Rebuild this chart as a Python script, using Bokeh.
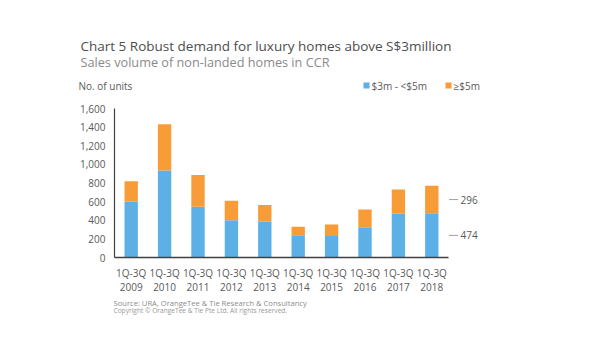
from bokeh.plotting import figure
from bokeh.models import (Range1d, NumeralTickFormatter, FixedTicker, CustomJSTickFormatter,
                          Label, ColumnDataSource)
from bokeh.core.properties import value
from bokeh.embed import file_html
from bokeh.resources import INLINE

# ---- data ----
years = ["2009", "2010", "2011", "2012", "2013", "2014", "2015", "2016", "2017", "2018"]
period = "1Q-3Q"
mid_segment = [600, 935, 545, 400, 385, 240, 230, 325, 470, 474]    # $3m - <$5m
top_segment = [220, 495, 340, 210, 180, 90, 125, 190, 260, 296]     # >= $5m
y_ticks = [0, 200, 400, 600, 800, 1000, 1200, 1400, 1600]
series_names = ["$3m - <$5m", "\u2265$5m"]

title_text = "Chart 5 Robust demand for luxury homes above S$3million"
subtitle_text = "Sales volume of non-landed homes in CCR"
unit_text = "No. of units"
source_text = "Source: URA, OrangeTee & Tie Research & Consultancy"
copyright_text = "Copyright \u00a9 OrangeTee & Tie Pte Ltd. All rights reserved."

BLUE = "#5DB0E6"
ORANGE = "#F89C38"
TXT = "#595959"
FONT = "Open Sans"

W, H = 583, 344
AX_L, AX_R = 114, 448        # x extent of the category axis (px)
AX_T, AX_B = 108, 257        # y extent of the value axis (px)
Y_MAX = 1600
N = len(years)
xpos = [i + 0.5 for i in range(N)]

ux = (AX_R - AX_L) / N       # px per category
uy = (AX_B - AX_T) / Y_MAX   # px per unit

p = figure(width=W, height=H,
           x_range=Range1d(-AX_L / ux, (W - AX_L) / ux),
           y_range=Range1d(-(H - AX_B) / uy, Y_MAX + AX_T / uy),
           output_backend="svg", toolbar_location=None, title=None,
           min_border=0, min_border_left=0, min_border_right=0,
           min_border_top=0, min_border_bottom=0,
           outline_line_color=None, background_fill_color="white")


def at(xp, yp):
    """page pixel -> data coordinates"""
    return ((xp - AX_L) / ux, (AX_B - yp) / uy)


def lab(text, xp, yp, size, color=TXT, align="left"):
    x, y = at(xp, yp)
    p.add_layout(Label(x=x, y=y, text=text, text_font=FONT, text_font_size=size,
                       text_color=color, text_align=align, text_baseline="middle"))


source = ColumnDataSource(dict(x=xpos, low=mid_segment, high=top_segment))
p.vbar_stack(["low", "high"], x="x", width=0.4, source=source,
             color=[BLUE, ORANGE], line_color=None)

p.xgrid.grid_line_color = None
p.ygrid.grid_line_color = None

# axes drawn at the data origin
p.yaxis.fixed_location = 0
p.xaxis.fixed_location = 0
p.yaxis.ticker = FixedTicker(ticks=y_ticks)
p.yaxis.formatter = NumeralTickFormatter(format="0,0")
p.yaxis.bounds = (0, Y_MAX)
p.yaxis.major_tick_line_color = None
p.yaxis.minor_tick_line_color = None
p.yaxis.major_tick_out = 0
p.yaxis.major_tick_in = 0
p.yaxis.major_label_standoff = 9
p.yaxis.axis_line_color = "#404040"
p.yaxis.axis_line_width = 1.2
for ax in (p.xaxis, p.yaxis):
    ax.major_label_text_font = FONT
    ax.major_label_text_font_size = "10px"
    ax.major_label_text_color = TXT

p.xaxis.ticker = FixedTicker(ticks=xpos)
p.xaxis.bounds = (0, N)
p.xaxis.formatter = CustomJSTickFormatter(
    args=dict(labels=[period + "\n" + y for y in years]),
    code="return labels[index];")
p.xaxis.major_label_text_line_height = 1.0
p.xaxis.major_tick_line_color = None
p.xaxis.minor_tick_line_color = None
p.xaxis.major_tick_out = 0
p.xaxis.major_tick_in = 0
p.xaxis.axis_line_color = "#404040"
p.xaxis.axis_line_width = 1.5
p.xaxis.major_label_standoff = 8

# leader lines and values for the last bar
last_low, last_high = mid_segment[-1], top_segment[-1]
ann_y = [last_low / 2, last_low + last_high / 2]
ann_v = [str(last_low), str(last_high)]
p.segment(x0=[N + 0.5 / ux] * 2, x1=[N + 9.5 / ux] * 2, y0=ann_y, y1=ann_y,
          line_color="#a0a0a0", line_width=1)
p.text(x=[N + 12 / ux] * 2, y=ann_y, text=ann_v, text_font=value(FONT),
       text_font_size="10px", text_color=TXT, text_baseline="middle")

# titles
lab(title_text, 80, 45.5, "13.5px", color="#4d4d4d")
lab(subtitle_text, 80, 61.5, "12.7px", color="#8a8a8a")
lab(unit_text, 78, 85, "10px")

# legend
sw_px = [366, 448]
sw_x = [at(s, 85)[0] for s in sw_px]
sw_y = [at(0, 85)[1]] * 2
p.scatter(x=sw_x, y=sw_y, marker="square", size=6, color=[BLUE, ORANGE], line_color=None)
for s, name in zip(sw_px, series_names):
    lab(name, s + 5, 85, "10px")

# notes
lab(source_text, 113, 302, "7.6px", color="#8c8c8c")
lab(copyright_text, 113, 309.5, "6.6px", color="#9a9a9a")

open("out.html", "w").write(file_html(p, INLINE))
